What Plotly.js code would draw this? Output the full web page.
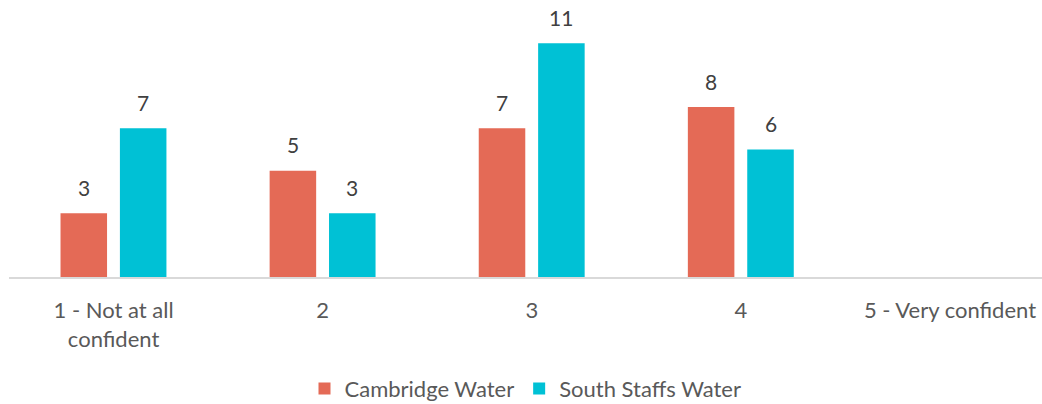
<!DOCTYPE html>
<html>
<head>
<meta charset="utf-8">
<script src="https://cdn.plot.ly/plotly-3.0.1.min.js"></script>
<style>html,body{margin:0;padding:0;background:#fff;}#chart{width:1042px;height:404px;}</style>
</head>
<body>
<div id="chart"></div>
<script>
const categories = ["1 - Not at all confident", "2", "3", "4", "5 - Very confident"];
const tickLabels = ["1 - Not at all<br>confident", "2", "3", "4", "5 - Very confident"];
const cambridgeWater = [3, 5, 7, 8, null];
const southStaffsWater = [7, 3, 11, 6, null];
const seriesNames = ["Cambridge Water", "South Staffs Water"];

const colors = ["#E46A56", "#00C1D5"];
const barWidth = 0.2225;
const offsets = [-0.2536, 0.0304];
const FONT = "Lato, 'Open Sans', sans-serif";

const seriesValues = [cambridgeWater, southStaffsWater];
const traces = seriesValues.map((vals, s) => ({
  type: "bar",
  name: seriesNames[s],
  x: categories,
  y: vals,
  width: barWidth,
  offset: offsets[s],
  marker: {color: colors[s]},
  hoverinfo: "x+y+name"
}));

const annotations = [];
seriesValues.forEach((vals, s) => {
  vals.forEach((v, i) => {
    if (v === null || v === undefined) return;
    annotations.push({
      x: i + offsets[s] + barWidth / 2,
      y: v,
      xref: "x", yref: "y",
      text: String(v),
      showarrow: false,
      yanchor: "middle",
      yshift: 26,
      font: {family: FONT, size: 21, color: "#404040"}
    });
  });
});

const layout = {
  width: 1042, height: 404,
  margin: {l: 9, r: 0, t: 22, b: 127, autoexpand: false},
  paper_bgcolor: "#ffffff",
  plot_bgcolor: "#ffffff",
  barmode: "overlay",
  showlegend: true,
  legend: {
    orientation: "h", x: 0.5, xanchor: "center", y: -0.438, yanchor: "middle",
    font: {family: FONT, size: 22, color: "#595959"},
    itemclick: false, itemwidth: 30
  },
  xaxis: {
    type: "category",
    range: [-0.5, 4.44],
    tickvals: categories,
    ticktext: tickLabels,
    showline: true, linecolor: "#D9D9D9", linewidth: 1.5,
    showgrid: false, zeroline: false, ticks: "",
    ticklabelstandoff: 13,
    tickfont: {family: FONT, size: 22, color: "#595959"},
    fixedrange: true
  },
  yaxis: {
    range: [0, 12],
    showticklabels: false, showgrid: false, zeroline: false, showline: false, ticks: "",
    fixedrange: true
  },
  annotations: annotations,
  font: {family: FONT}
};

Plotly.newPlot("chart", traces, layout, {displayModeBar: false, staticPlot: true});
</script>
</body>
</html>
